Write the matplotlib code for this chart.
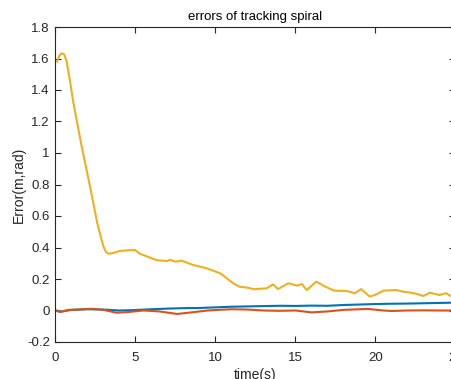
import numpy as np
import matplotlib.pyplot as plt

plt.rcParams['font.family'] = ['Liberation Sans', 'DejaVu Sans']

# yellow curve
t_yel = [0.1, 0.25, 0.4, 0.55, 0.7, 0.9, 1.1, 1.6, 2.16, 2.6, 2.85, 3.0, 3.15, 3.3,
         3.6, 4.0, 4.5, 4.97, 5.28, 5.8, 6.3, 6.95, 7.16, 7.5, 7.9, 8.6, 9.45, 10.3,
         11.1, 11.5, 12.0, 12.4, 13.2, 13.6, 13.9, 14.55, 15.1, 15.4, 15.7, 16.3,
         16.8, 17.4, 18.2, 18.7, 19.1, 19.65, 20.0, 20.5, 21.3, 21.7, 22.2, 22.6,
         23.0, 23.4, 24.0, 24.4, 24.7, 25.0]
e_yel = [1.58, 1.62, 1.633, 1.625, 1.58, 1.46, 1.33, 1.06, 0.786, 0.56, 0.46,
         0.405, 0.372, 0.36, 0.365, 0.378, 0.382, 0.384, 0.36, 0.34, 0.32, 0.314,
         0.322, 0.31, 0.316, 0.289, 0.268, 0.236, 0.173, 0.151, 0.145, 0.135, 0.141,
         0.166, 0.136, 0.173, 0.158, 0.168, 0.13, 0.183, 0.155, 0.126, 0.124, 0.109,
         0.136, 0.088, 0.1, 0.126, 0.13, 0.12, 0.113, 0.105, 0.092, 0.113, 0.098,
         0.11, 0.092, 0.095]

# blue curve
t_blu = [0, 0.4, 1.0, 2.0, 3.0, 4.0, 5.0, 6.0, 7.0, 8.0, 9.0, 10.0, 11.0, 12.0,
         13.0, 14.0, 15.0, 16.0, 17.0, 18.0, 19.0, 20.0, 21.0, 22.0, 23.0, 24.0, 25.0]
e_blu = [0.0, -0.006, 0.004, 0.008, 0.006, 0.0, 0.003, 0.008, 0.012, 0.015, 0.016,
         0.02, 0.024, 0.026, 0.028, 0.03, 0.029, 0.031, 0.03, 0.035, 0.038, 0.041,
         0.043, 0.044, 0.046, 0.048, 0.05]

# orange curve
t_ora = [0, 0.3, 0.8, 1.5, 2.2, 3.0, 3.8, 4.5, 5.5, 6.5, 7.6, 8.5, 9.5, 10.0, 11.0,
         12.0, 13.0, 14.0, 15.0, 16.0, 17.0, 18.0, 19.5, 20.5, 21.0, 22.0, 23.0,
         24.0, 25.0]
e_ora = [0.0, -0.01, 0.004, 0.006, 0.011, 0.004, -0.014, -0.01, 0.0, -0.006,
         -0.022, -0.012, 0.0, 0.003, 0.008, 0.006, 0.0, -0.002, 0.0, -0.012,
         -0.006, 0.004, 0.01, 0.0, -0.003, 0.0, 0.001, 0.0, 0.0]

fig = plt.figure(figsize=(4.52, 3.79), dpi=100)
ax = fig.add_axes([55.5 / 452, 37 / 379, 400 / 452, 315 / 379])

ax.plot(t_blu, e_blu, color='#0072BD', lw=1.5)
ax.plot(t_ora, e_ora, color='#D95319', lw=1.5)
ax.plot(t_yel, e_yel, color='#EDB120', lw=1.5)

ax.set_xlim(0, 25)
ax.set_ylim(-0.2, 1.8)
ax.set_xticks([0, 5, 10, 15, 20, 25])
ax.set_yticks(np.arange(-0.2, 1.81, 0.2))
ax.set_yticklabels(['-0.2', '0', '0.2', '0.4', '0.6', '0.8', '1', '1.2', '1.4', '1.6', '1.8'])
ax.tick_params(direction='in', length=4, width=0.8, top=True, right=True,
               labelsize=9.5, colors='#262626')
ax.tick_params(axis='x', pad=7)
ax.tick_params(axis='y', pad=4)
for s in ax.spines.values():
    s.set_color('#262626')
    s.set_linewidth(0.8)

ax.set_title('errors of tracking spiral', fontsize=9.5, pad=5)
ax.set_xlabel('time(s)', fontsize=10, color='#262626', labelpad=3)
ax.set_ylabel('Error(m,rad)', fontsize=10, color='#262626', labelpad=1)

fig.savefig('out.png', dpi=100)
